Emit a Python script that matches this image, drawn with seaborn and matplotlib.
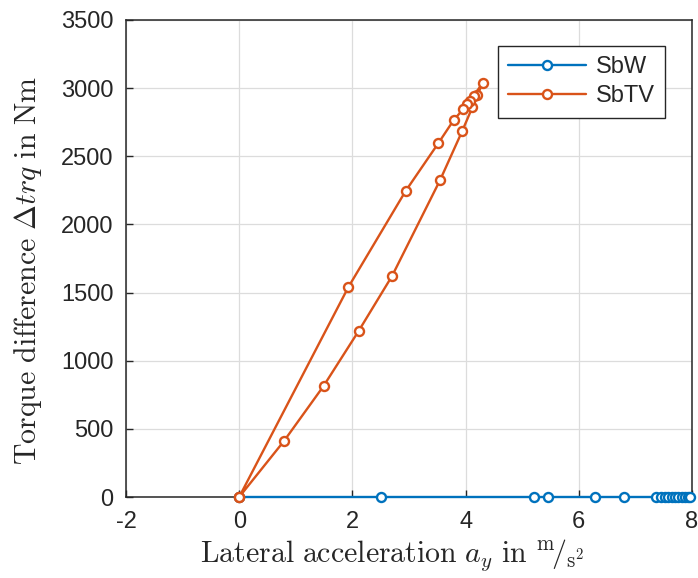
import matplotlib
matplotlib.use("Agg")
import matplotlib.pyplot as plt
import seaborn as sns
import pandas as pd

# SbW series (torque difference stays zero)
sbw_x = [0, 2.50, 5.21, 5.45, 6.29, 6.79, 7.36, 7.45, 7.52, 7.58, 7.64, 7.70, 7.76, 7.82, 7.88, 7.93, 7.97]
sbw_y = [0] * len(sbw_x)

# SbTV series (hysteresis loop)
sbtv_x = [0, 0.79, 1.49, 2.11, 2.70, 3.55, 3.94, 4.12, 4.21, 4.30,
          4.14, 4.07, 4.02, 3.96, 3.79, 3.52, 2.94, 1.93, 0]
sbtv_y = [0, 410, 814, 1218, 1621, 2326, 2685, 2860, 2949, 3037,
          2942, 2905, 2880, 2847, 2766, 2597, 2245, 1541, 0]

series_names = ["SbW", "SbTV"]
colors = ["#0072BD", "#D95319"]

x_ticks = [-2, 0, 2, 4, 6, 8]
y_ticks = [0, 500, 1000, 1500, 2000, 2500, 3000, 3500]

sns.set_theme(style="white")
plt.rcParams["font.family"] = ["Liberation Sans", "DejaVu Sans"]
plt.rcParams["mathtext.fontset"] = "cm"
plt.rcParams["axes.unicode_minus"] = False

fig = plt.figure(figsize=(6.98, 5.78), dpi=100)
ax = fig.add_axes([126 / 698, 1 - 497 / 578, (692 - 126) / 698, (497 - 20) / 578])

df_w = pd.DataFrame({"x": sbw_x, "y": sbw_y})
df_tv = pd.DataFrame({"x": sbtv_x, "y": sbtv_y})

for df, name, c in [(df_w, series_names[0], colors[0]), (df_tv, series_names[1], colors[1])]:
    sns.lineplot(data=df, x="x", y="y", sort=False, ax=ax, color=c, label=name,
                 marker="o", markersize=6.5, markerfacecolor="white",
                 markeredgecolor=c, markeredgewidth=1.7, linewidth=1.7,
                 estimator=None, legend=False, clip_on=False, zorder=4)

ax.set_xlim(-2, 8)
ax.set_ylim(0, 3500)
ax.set_xticks(x_ticks)
ax.set_xticklabels([str(t) for t in x_ticks])
ax.set_yticks(y_ticks)
ax.set_yticklabels([str(t) for t in y_ticks])
ax.grid(True, color="#dcdcdc", linewidth=0.9)
ax.set_axisbelow(True)
for s in ax.spines.values():
    s.set_color("#262626")
    s.set_linewidth(1.1)
ax.tick_params(axis="both", direction="in", length=5, width=1.0, color="#262626",
               labelsize=17, labelcolor="#262626",
               bottom=True, left=True, top=False, right=False)
ax.tick_params(axis="x", pad=10)
ax.tick_params(axis="y", pad=9)

ax.set_xlabel(r"$\mathrm{Lateral\ acceleration}\ a_y\ \mathrm{in}\ {}^{\mathrm{m}}\!/_{\mathrm{s}^2}$",
              fontsize=21.5, color="#262626")
ax.set_ylabel(r"$\mathrm{Torque\ difference}\ \Delta trq\ \mathrm{in\ Nm}$",
              fontsize=21.5, color="#262626")
ax.xaxis.set_label_coords((392 - 126) / 566, -(537 - 497) / 477)
ax.yaxis.set_label_coords(-(126 - 44) / 566, (497 - 270) / 477)

leg = ax.legend(loc="upper right", bbox_to_anchor=(0.953, 0.946), fontsize=17,
                handlelength=3.3, frameon=True, fancybox=False, framealpha=1,
                edgecolor="#262626", borderpad=0.45, labelspacing=0.3, handletextpad=0.4,
                borderaxespad=0)
leg.get_frame().set_linewidth(1.0)

fig.savefig("out.png", dpi=100)
